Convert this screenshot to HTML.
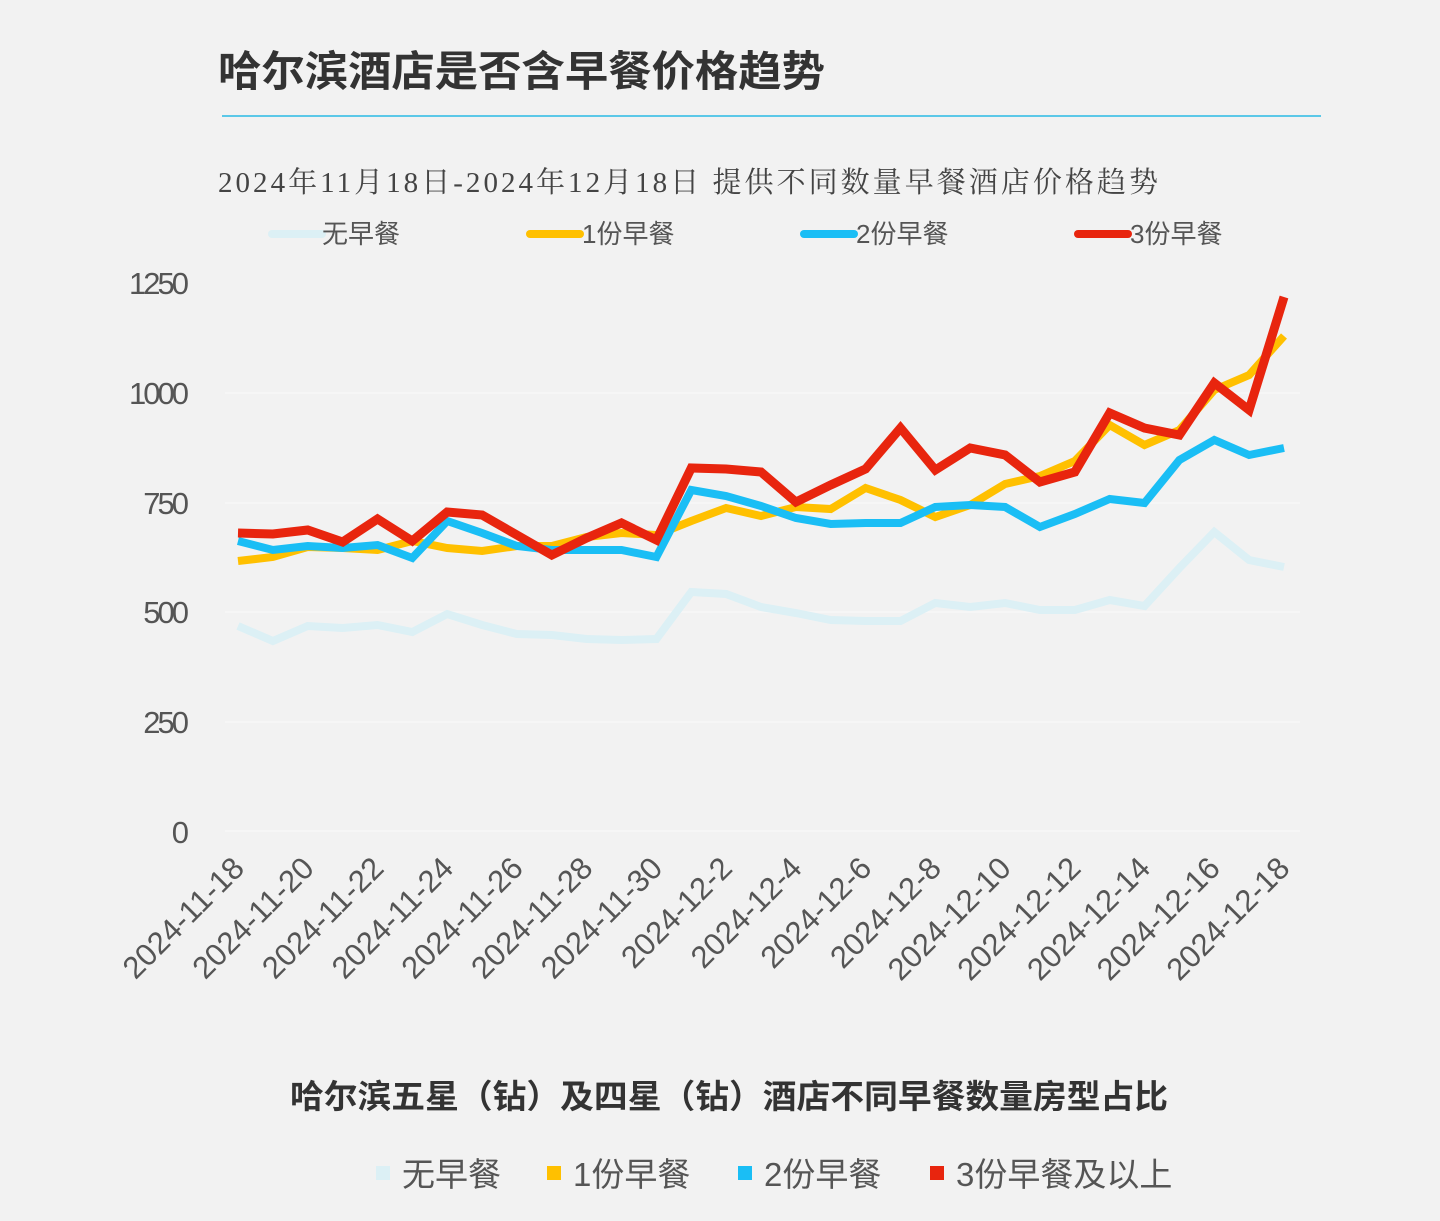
<!DOCTYPE html>
<html><head><meta charset="utf-8"><style>
body{margin:0;width:1440px;height:1221px;background:#f2f2f2;overflow:hidden;font-family:"Liberation Sans","Noto Sans CJK SC",sans-serif;}
</style></head><body>
<svg width="1440" height="1221" xmlns="http://www.w3.org/2000/svg" style="position:absolute;left:0;top:0">
<text x="218" y="86" font-size="42" font-weight="bold" fill="#333" font-family="Liberation Sans,Noto Sans CJK SC,sans-serif" textLength="607" lengthAdjust="spacingAndGlyphs">哈尔滨酒店是否含早餐价格趋势</text>
<line x1="222" y1="116" x2="1321" y2="116" stroke="#5bc8e8" stroke-width="2"/>
<text x="218" y="192" font-size="29" fill="#444" font-family="Liberation Serif,Noto Serif CJK SC,serif" textLength="940">2024年11月18日-2024年12月18日 提供不同数量早餐酒店价格趋势</text>
<g font-size="26" fill="#555" font-family="Liberation Sans,Noto Sans CJK SC,sans-serif">
<line x1="272" y1="234" x2="322" y2="234" stroke="#dcf0f5" stroke-width="8" stroke-linecap="round"/><text x="322" y="243">无早餐</text>
<line x1="530" y1="234" x2="580" y2="234" stroke="#ffc000" stroke-width="8" stroke-linecap="round"/><text x="582" y="243">1份早餐</text>
<line x1="804" y1="234" x2="854" y2="234" stroke="#1abef5" stroke-width="8" stroke-linecap="round"/><text x="856" y="243">2份早餐</text>
<line x1="1078" y1="234" x2="1128" y2="234" stroke="#e8250e" stroke-width="8" stroke-linecap="round"/><text x="1130" y="243">3份早餐</text>
</g>
<g font-size="31" fill="#555" text-anchor="end" font-family="Liberation Sans,sans-serif" letter-spacing="-3">
<text x="186" y="294">1250</text><text x="186" y="404">1000</text><text x="186" y="514">750</text><text x="186" y="623">500</text><text x="186" y="733">250</text><text x="186" y="843">0</text>
</g>
<g stroke="#f6f6f6" stroke-width="2"><line x1="225" y1="393" x2="1300" y2="393"/><line x1="225" y1="503" x2="1300" y2="503"/><line x1="225" y1="612" x2="1300" y2="612"/><line x1="225" y1="722" x2="1300" y2="722"/><line x1="225" y1="831" x2="1300" y2="831"/></g>
<g fill="none" stroke-width="8" stroke-linejoin="miter" stroke-linecap="butt">
<polyline stroke="#dcf0f5" points="238,626 272.9,641 307.7,626 342.6,628 377.5,625 412.3,632 447.2,614 482.1,625 516.9,634 551.8,635 586.7,639 621.5,640 656.4,639 691.3,592 726.1,594 761,607 795.9,613 830.7,620 865.6,621 900.5,621 935.3,603 970.2,607 1005.1,603 1039.9,610 1074.8,610 1109.7,600 1144.5,606 1179.4,568 1214.3,532 1249.1,560 1284,567"/>
<polyline stroke="#ffc000" points="238,561 272.9,557 307.7,547 342.6,548 377.5,550 412.3,541 447.2,548 482.1,551 516.9,546 551.8,546 586.7,537 621.5,533 656.4,535 691.3,521 726.1,508 761,516 795.9,507 830.7,509 865.6,488 900.5,500 935.3,517 970.2,505 1005.1,484 1039.9,476 1074.8,461 1109.7,425 1144.5,445 1179.4,430 1214.3,390 1249.1,375 1284,336"/>
<polyline stroke="#1abef5" points="238,541 272.9,550 307.7,546 342.6,548 377.5,545 412.3,558 447.2,521 482.1,533 516.9,546 551.8,550 586.7,550 621.5,550 656.4,557 691.3,490 726.1,496 761,506 795.9,518 830.7,524 865.6,523 900.5,523 935.3,507 970.2,505 1005.1,507 1039.9,527 1074.8,514 1109.7,499 1144.5,503 1179.4,460 1214.3,440 1249.1,455 1284,448"/>
<polyline stroke="#e8250e" stroke-width="9" points="238,533 272.9,534 307.7,530 342.6,542 377.5,519 412.3,541 447.2,512 482.1,515 516.9,535 551.8,555 586.7,538 621.5,523 656.4,540 691.3,468 726.1,469 761,472 795.9,502 830.7,485 865.6,469 900.5,428 935.3,470 970.2,448 1005.1,455 1039.9,482 1074.8,472 1109.7,413 1144.5,428 1179.4,435 1214.3,383 1249.1,410 1284,297"/>
</g>
<g font-size="31" fill="#555" text-anchor="end" font-family="Liberation Sans,sans-serif">
<text transform="translate(246,870) rotate(-45)">2024-11-18</text>
<text transform="translate(315.7,870) rotate(-45)">2024-11-20</text>
<text transform="translate(385.4,870) rotate(-45)">2024-11-22</text>
<text transform="translate(455.1,870) rotate(-45)">2024-11-24</text>
<text transform="translate(524.8,870) rotate(-45)">2024-11-26</text>
<text transform="translate(594.5,870) rotate(-45)">2024-11-28</text>
<text transform="translate(664.2,870) rotate(-45)">2024-11-30</text>
<text transform="translate(733.9,870) rotate(-45)">2024-12-2</text>
<text transform="translate(803.6,870) rotate(-45)">2024-12-4</text>
<text transform="translate(873.3,870) rotate(-45)">2024-12-6</text>
<text transform="translate(943,870) rotate(-45)">2024-12-8</text>
<text transform="translate(1012.7,870) rotate(-45)">2024-12-10</text>
<text transform="translate(1082.4,870) rotate(-45)">2024-12-12</text>
<text transform="translate(1152.1,870) rotate(-45)">2024-12-14</text>
<text transform="translate(1221.8,870) rotate(-45)">2024-12-16</text>
<text transform="translate(1291.5,870) rotate(-45)">2024-12-18</text>
</g>
<text x="290" y="1108" font-size="33" font-weight="bold" fill="#333" font-family="Liberation Sans,Noto Sans CJK SC,sans-serif" textLength="878" lengthAdjust="spacingAndGlyphs">哈尔滨五星（钻）及四星（钻）酒店不同早餐数量房型占比</text>
<g font-size="33" fill="#555" font-family="Liberation Sans,Noto Sans CJK SC,sans-serif">
<rect x="376" y="1166" width="14" height="14" fill="#dcf0f5"/><text x="402" y="1186">无早餐</text>
<rect x="547" y="1166" width="14" height="14" fill="#ffc000"/><text x="573" y="1186">1份早餐</text>
<rect x="738" y="1166" width="14" height="14" fill="#1abef5"/><text x="764" y="1186">2份早餐</text>
<rect x="930" y="1166" width="14" height="14" fill="#e8250e"/><text x="956" y="1186">3份早餐及以上</text>
</g>
</svg>
</body></html>
